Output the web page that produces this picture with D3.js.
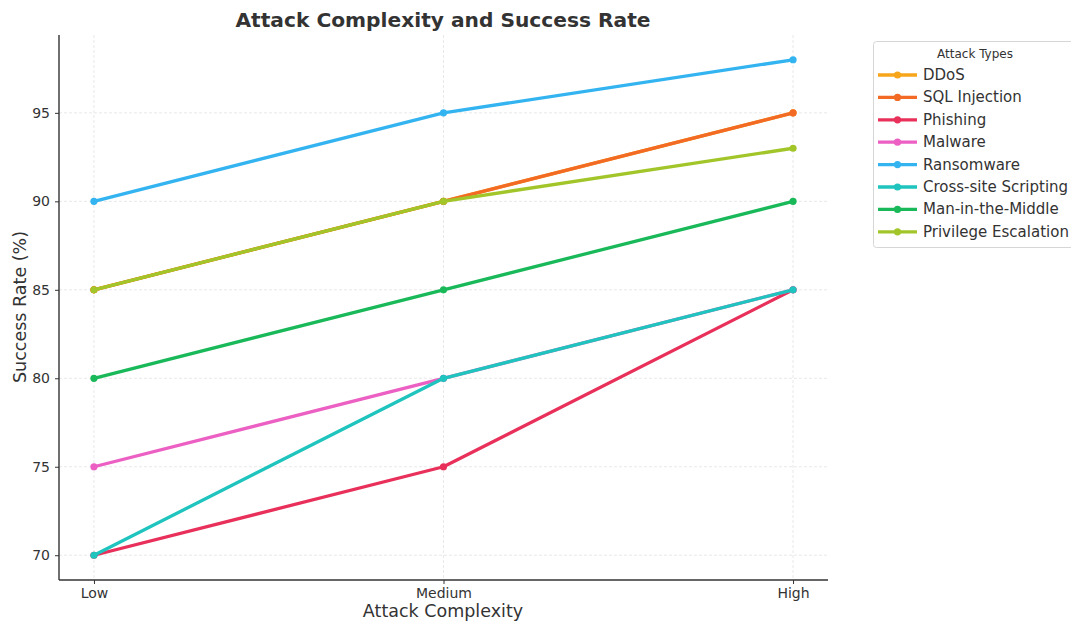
<!DOCTYPE html>
<html><head><meta charset="utf-8">
<script src="https://cdn.jsdelivr.net/npm/d3@7"></script>
<style>
body{margin:0;background:#fff;}
svg{display:block;}
text{font-family:"DejaVu Sans",sans-serif;}
</style></head>
<body><svg id="c" width="1071" height="624"></svg>
<script>
const categories = ["Low", "Medium", "High"];
const seriesNames = ["DDoS", "SQL Injection", "Phishing", "Malware", "Ransomware", "Cross-site Scripting", "Man-in-the-Middle", "Privilege Escalation"];
const ddos = [85, 90, 95];
const sqlInjection = [85, 90, 95];
const phishing = [70, 75, 85];
const malware = [75, 80, 85];
const ransomware = [90, 95, 98];
const crossSite = [70, 80, 85];
const mitm = [80, 85, 90];
const privilege = [85, 90, 93];
const yTicks = [70, 75, 80, 85, 90, 95];
const colors = ["#f7a61c", "#f26a23", "#e8305a", "#ec5fc3", "#33b4f1", "#1ec4bd", "#19b95a", "#a2c62a"];

const values = [ddos, sqlInjection, phishing, malware, ransomware, crossSite, mitm, privilege];
const series = seriesNames.map((n, i) => ({name: n, values: values[i], color: colors[i]}));

const svg = d3.select("#c");
const L = 59, R = 828, T = 35, B = 580;
const x = d3.scaleLinear().domain([-0.1, 2.1]).range([L, R]);
const y = d3.scaleLinear().domain([68.6, 99.4]).range([B, T]);

// grid
const g = svg.append("g");
g.selectAll(".hg").data(yTicks).join("line")
  .attr("x1", L).attr("x2", R).attr("y1", d => y(d)).attr("y2", d => y(d))
  .attr("stroke", "#e2e2e2").attr("stroke-width", 0.8).attr("stroke-dasharray", "3,2");
g.selectAll(".vg").data(categories).join("line")
  .attr("x1", (d, i) => x(i)).attr("x2", (d, i) => x(i)).attr("y1", T).attr("y2", B)
  .attr("stroke", "#e2e2e2").attr("stroke-width", 0.8).attr("stroke-dasharray", "3,2");

// axes
const yAxis = d3.axisLeft(y).tickValues(yTicks).tickSize(4).tickPadding(5);
const ya = svg.append("g").attr("transform", `translate(${L},0)`).call(yAxis);
ya.select(".domain").attr("d", `M0,${T}V${B}`).attr("stroke", "#333").attr("stroke-width", 1.4);
ya.selectAll("text").attr("font-size", 14).attr("fill", "#333").attr("font-family", "DejaVu Sans");
ya.selectAll(".tick line").attr("stroke", "#333");

const xAxis = d3.axisBottom(x).tickValues([0, 1, 2]).tickFormat(i => categories[i]).tickSize(4).tickPadding(4);
const xa = svg.append("g").attr("transform", `translate(0,${B})`).call(xAxis);
xa.select(".domain").attr("d", `M${L},0H${R}`).attr("stroke", "#333").attr("stroke-width", 1.4);
xa.selectAll("text").attr("font-size", 14).attr("fill", "#333").attr("font-family", "DejaVu Sans");
xa.selectAll(".tick line").attr("stroke", "#333");

// lines
const line = d3.line().x((d, i) => x(i)).y(d => y(d));
series.forEach(s => {
  const sg = svg.append("g");
  sg.append("path").attr("d", line(s.values)).attr("fill", "none")
    .attr("stroke", s.color).attr("stroke-width", 3.3).attr("stroke-linejoin", "round").attr("stroke-linecap", "round");
  sg.selectAll("circle").data(s.values).join("circle")
    .attr("cx", (d, i) => x(i)).attr("cy", d => y(d)).attr("r", 3.6).attr("fill", s.color);
});

// title and labels
svg.append("text").attr("x", 443).attr("y", 27).attr("text-anchor", "middle")
  .attr("font-size", 20.2).attr("font-weight", "bold").attr("fill", "#333").text("Attack Complexity and Success Rate");
svg.append("text").attr("x", 443).attr("y", 617).attr("text-anchor", "middle")
  .attr("font-size", 17.5).attr("fill", "#333").text("Attack Complexity");
svg.append("text").attr("transform", "translate(26,307) rotate(-90)").attr("text-anchor", "middle")
  .attr("font-size", 17.5).attr("fill", "#333").text("Success Rate (%)");

// legend
const lg = svg.append("g");
lg.append("rect").attr("x", 873.5).attr("y", 41.5).attr("width", 205).attr("height", 206)
  .attr("rx", 3).attr("fill", "#fff").attr("stroke", "#d6d6d6");
lg.append("text").attr("x", 975).attr("y", 58).attr("text-anchor", "middle")
  .attr("font-size", 12).attr("fill", "#333").text("Attack Types");
series.forEach((s, i) => {
  const yy = 75 + i * 22.4;
  lg.append("line").attr("x1", 878).attr("x2", 917).attr("y1", yy).attr("y2", yy)
    .attr("stroke", s.color).attr("stroke-width", 3.3);
  lg.append("circle").attr("cx", 897.5).attr("cy", yy).attr("r", 3.6).attr("fill", s.color);
  lg.append("text").attr("x", 923).attr("y", yy + 5).attr("font-size", 15).attr("fill", "#333").text(s.name);
});
</script></body></html>
